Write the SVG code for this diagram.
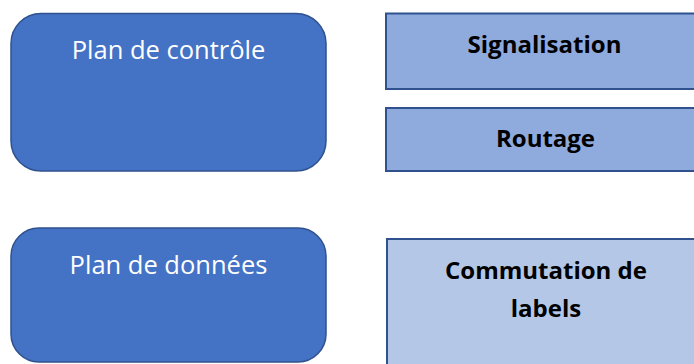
<svg xmlns="http://www.w3.org/2000/svg" width="694" height="364" viewBox="0 0 694 364">
  <style>
    .plane { fill: #4472C4; stroke: #2F528F; stroke-width: 1.5; }
    .func { fill: #8FAADC; stroke: #2F528F; stroke-width: 2; }
    .func-light { fill: #B4C7E7; stroke: #2F528F; stroke-width: 2; }
    .plane-label { font-family: "Open Sans", "Liberation Sans", sans-serif; font-size: 25.5px; fill: #FFFFFF; text-anchor: middle; }
    .func-label { font-family: "Open Sans", "Liberation Sans", sans-serif; font-size: 24px; font-weight: bold; fill: #000000; text-anchor: middle; }
  </style>
  <rect width="694" height="364" fill="#FFFFFF"/>

  <g id="plan-controle">
    <rect class="plane" x="11" y="13.5" width="315" height="157.5" rx="30" ry="30"/>
    <text class="plane-label" x="168.5" y="59">Plan de contrôle</text>
  </g>

  <g id="plan-donnees">
    <rect class="plane" x="11" y="228" width="315" height="134" rx="28" ry="28"/>
    <text class="plane-label" x="168.5" y="274">Plan de données</text>
  </g>

  <g id="signalisation">
    <rect class="func" x="386" y="13.5" width="320" height="75.5"/>
    <text class="func-label" x="544.5" y="53">Signalisation</text>
  </g>

  <g id="routage">
    <rect class="func" x="386" y="108" width="320" height="63"/>
    <text class="func-label" x="545.5" y="147">Routage</text>
  </g>

  <g id="commutation">
    <rect class="func-light" x="387" y="239" width="320" height="140"/>
    <text class="func-label" x="546" y="279">Commutation de</text>
    <text class="func-label" x="546" y="317">labels</text>
  </g>

  <g id="connectors"/>
</svg>
